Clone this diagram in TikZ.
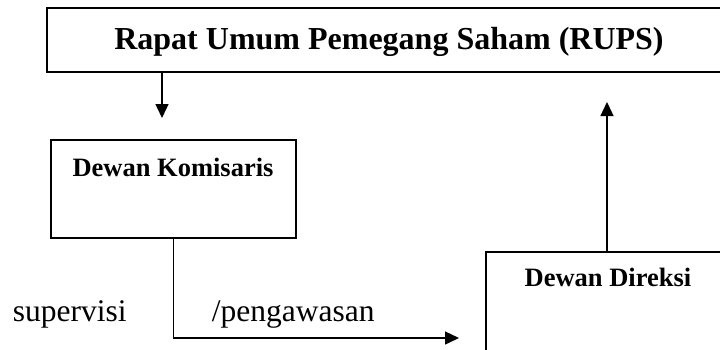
\documentclass[tikz,border=0pt]{standalone}
\usepackage{fontspec}
\setmainfont{Liberation Serif}
\usetikzlibrary{arrows.meta}
\begin{document}
\begin{tikzpicture}[x=1pt,y=-1pt,
  box/.style={draw,line width=1.6pt,inner sep=0pt},
  arr/.style={line width=1.4pt,-{Triangle[length=14pt,width=13pt]}},
  bigtext/.style={font=\fontsize{32}{38}\selectfont\bfseries,inner sep=0pt},
  midtext/.style={font=\fontsize{26.5}{32}\selectfont\bfseries,inner sep=0pt},
  plaintext/.style={font=\fontsize{31.5}{38}\selectfont,inner sep=0pt},
]
\useasboundingbox (0,0) rectangle (720,349);
\clip (0,0) rectangle (720,349);
% boxes
\node[box,minimum width=684pt,minimum height=64pt] (rups) at (389,40) {};
\node[box,minimum width=245pt,minimum height=98pt] (komisaris) at (173.5,189) {};
\node[box,minimum width=242pt,minimum height=120pt] (direksi) at (607,312) {};
% texts
\node[bigtext,anchor=base] (rupstext) at (389,49) {Rapat Umum Pemegang Saham (RUPS)};
\node[midtext,anchor=base] (komtext) at (173,176) {Dewan Komisaris};
\node[midtext,anchor=base] (dirtext) at (608,286) {Dewan Direksi};
\node[plaintext,anchor=base west] (supervisi) at (12.7,321) {supervisi};
\node[plaintext,anchor=base west] (pengawasan) at (211.7,321) {/pengawasan};
% connectors
\coordinate (downtip) at (162,118);
\coordinate (uptip) at (606,102);
\coordinate (righttip) at (459,338);
\draw[arr] (rups.south -| downtip) -- (downtip);
\draw[arr] (direksi.north) -- (direksi.north |- uptip);
\draw[arr] (komisaris.south) |- (righttip);
\end{tikzpicture}
\end{document}
